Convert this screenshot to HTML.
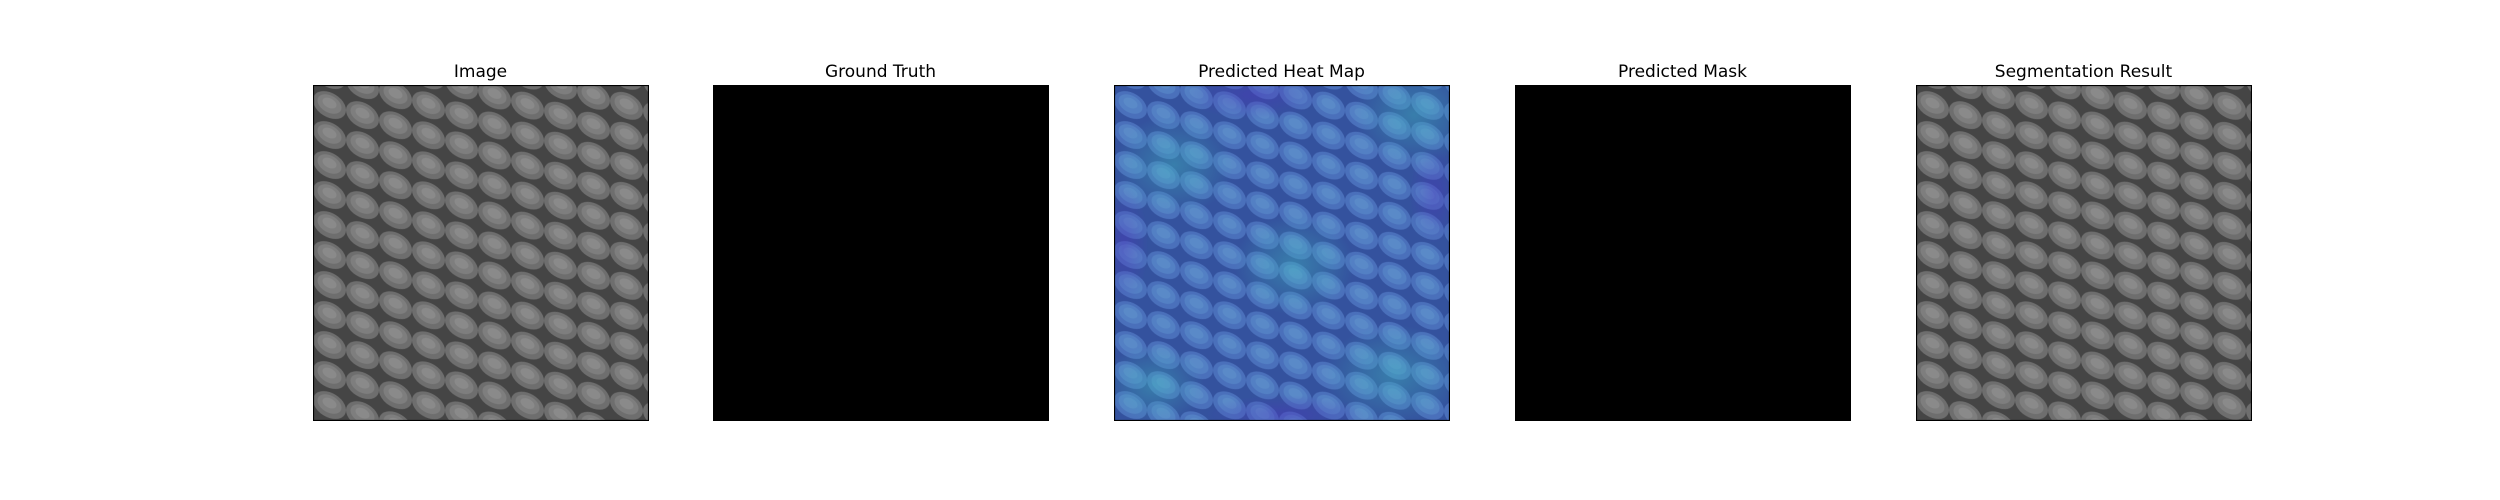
<!DOCTYPE html>
<html><head><meta charset="utf-8">
<style>
html,body{margin:0;padding:0;background:#fff;width:2500px;height:500px;overflow:hidden;font-family:"Liberation Sans","DejaVu Sans",sans-serif;}
.title{position:absolute;top:62px;width:335px;text-align:center;font-size:17px;color:#000;font-family:"DejaVu Sans","Liberation Sans",sans-serif;}
svg.p{position:absolute;top:85px;}
</style></head><body>
<svg width="0" height="0" style="position:absolute">
<defs>
<pattern id="meshG" width="33" height="30" patternUnits="userSpaceOnUse" patternTransform="skewY(17)">
<rect width="33" height="30" fill="#454545"/>
<ellipse cx="16.5" cy="15" rx="16.5" ry="13" fill="#6e6e6e"/>
<ellipse cx="16.5" cy="14" rx="12" ry="9" fill="#7e7e7e"/>
<ellipse cx="16.5" cy="13" rx="7" ry="5" fill="#8a8a8a"/>
</pattern>
<pattern id="meshB" width="33" height="30" patternUnits="userSpaceOnUse" patternTransform="skewY(17)">
<rect width="33" height="30" fill="#34529e"/>
<ellipse cx="16.5" cy="15" rx="16.5" ry="13" fill="#4a70bb"/>
<ellipse cx="16.5" cy="14" rx="12" ry="9" fill="#5380c4"/>
<ellipse cx="16.5" cy="13" rx="7" ry="5" fill="#5a8ac8"/>
</pattern>
<radialGradient id="teal" cx="0.5" cy="0.5" r="0.5"><stop offset="0" stop-color="#3fc0c0" stop-opacity="0.4"/><stop offset="1" stop-color="#3fc0c0" stop-opacity="0"/></radialGradient>
<radialGradient id="purp" cx="0.5" cy="0.5" r="0.5"><stop offset="0" stop-color="#5030c0" stop-opacity="0.4"/><stop offset="1" stop-color="#5030c0" stop-opacity="0"/></radialGradient>
</defs></svg>

<div class="title" style="left:313px">Image</div>
<svg class="p" style="left:313px" width="336" height="336">
<rect x="0" y="0" width="336" height="336" fill="url(#meshG)"/>
<rect x="0.5" y="0.5" width="335" height="335" fill="none" stroke="#000" stroke-width="1.2"/>
</svg>

<div class="title" style="left:713px">Ground Truth</div>
<svg class="p" style="left:713px" width="336" height="336">
<rect x="0" y="0" width="336" height="336" fill="#000"/>
</svg>

<div class="title" style="left:1114px">Predicted Heat Map</div>
<svg class="p" style="left:1114px" width="336" height="336">
<rect x="0" y="0" width="336" height="336" fill="url(#meshB)"/>
<ellipse cx="300" cy="30" rx="60" ry="50" fill="url(#teal)"/>
<ellipse cx="60" cy="80" rx="60" ry="50" fill="url(#teal)"/>
<ellipse cx="280" cy="290" rx="70" ry="50" fill="url(#teal)"/>
<ellipse cx="40" cy="300" rx="50" ry="40" fill="url(#teal)"/>
<ellipse cx="180" cy="180" rx="60" ry="50" fill="url(#teal)"/>
<ellipse cx="140" cy="10" rx="70" ry="25" fill="url(#purp)"/>
<ellipse cx="10" cy="160" rx="25" ry="60" fill="url(#purp)"/>
<ellipse cx="320" cy="110" rx="25" ry="50" fill="url(#purp)"/>
<ellipse cx="170" cy="330" rx="80" ry="20" fill="url(#purp)"/>
<rect x="0.5" y="0.5" width="335" height="335" fill="none" stroke="#000" stroke-width="1.2"/>
</svg>

<div class="title" style="left:1515px">Predicted Mask</div>
<svg class="p" style="left:1515px" width="336" height="336">
<rect x="0" y="0" width="336" height="336" fill="#000"/>
</svg>

<div class="title" style="left:1916px">Segmentation Result</div>
<svg class="p" style="left:1916px" width="336" height="336">
<rect x="0" y="0" width="336" height="336" fill="url(#meshG)"/>
<rect x="0.5" y="0.5" width="335" height="335" fill="none" stroke="#000" stroke-width="1.2"/>
</svg>
</body></html>
